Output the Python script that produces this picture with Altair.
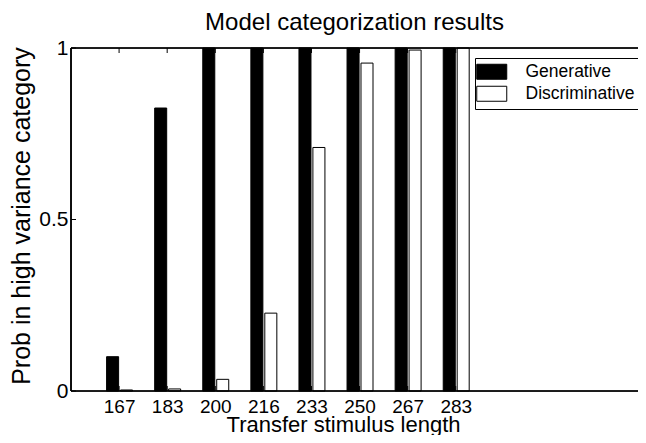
import altair as alt
import pandas as pd

# ---- data ----
stimulus_labels = ["167", "183", "200", "216", "233", "250", "267", "283"]
generative = [0.10, 0.825, 1.0, 1.0, 1.0, 1.0, 1.0, 1.0]
discriminative = [0.003, 0.006, 0.034, 0.227, 0.71, 0.956, 0.994, 1.0]
series_names = ["Generative", "Discriminative"]
y_ticks = [0, 0.5, 1]

positions = list(range(1, len(stimulus_labels) + 1))

rows = []
for i, lab in enumerate(stimulus_labels):
    rows.append({"pos": positions[i], "label": lab, "series": series_names[0], "value": generative[i]})
    rows.append({"pos": positions[i], "label": lab, "series": series_names[1], "value": discriminative[i]})
df = pd.DataFrame(rows)

xticks_df = pd.DataFrame({"pos": positions})
yticks_df = pd.DataFrame({"v": y_ticks})

W, H = 567, 343
FONT = "Liberation Sans"
xdom = [0, 11.79]

label_expr = "[" + ",".join(f"'{l}'" for l in stimulus_labels) + "][datum.value - 1]"

x_scale = alt.Scale(domain=xdom, nice=False, zero=False)
y_scale = alt.Scale(domain=[0, 1], nice=False)

base = alt.Chart(df).transform_calculate(
    x0="datum.pos + (datum.series == 'Generative' ? -0.26 : 0.03)",
    x1="datum.pos + (datum.series == 'Generative' ? -0.01 : 0.28)",
)

bars = base.mark_bar(stroke="black", strokeWidth=1).encode(
    x=alt.X("x0:Q", scale=x_scale,
            axis=alt.Axis(values=positions, labelExpr=label_expr, title="Transfer stimulus length",
                          domain=False, ticks=False, tickSize=0, grid=False,
                          labelFont=FONT, labelFontSize=19, labelColor="black", labelPadding=6,
                          labelOverlap=False,
                          titleFont=FONT, titleFontSize=22, titleFontWeight="normal", titleColor="black",
                          titleX=272, titleY=40, titleBaseline="alphabetic", titleAlign="center")),
    x2="x1:Q",
    y=alt.Y("value:Q", scale=y_scale,
            axis=alt.Axis(values=y_ticks, labelExpr="datum.value == 0.5 ? '0.5' : format(datum.value, 'd')",
                          title="Prob in high variance category",
                          domain=False, ticks=False, tickSize=0, grid=False,
                          labelFont=FONT, labelFontSize=21, labelColor="black", labelPadding=3,
                          titleFont=FONT, titleFontSize=25, titleFontWeight="normal", titleColor="black",
                          titleX=-50, titleY=H / 2 - 4, titleAngle=270, titleBaseline="middle",
                          titleAlign="center")),
    y2=alt.datum(0),
    fill=alt.Fill("series:N", scale=alt.Scale(domain=series_names, range=["black", "white"]),
                  legend=alt.Legend(title=None, orient="none", legendX=404, legendY=10,
                                    symbolType="M-2,-1H2V1H-2Z", symbolSize=225,
                                    symbolStrokeColor="black", symbolStrokeWidth=1,
                                    symbolOffset=3,
                                    labelFont=FONT, labelFontSize=17.5, labelColor="black",
                                    labelOffset=25, rowPadding=2, padding=5,
                                    strokeColor="black", fillColor="white")),
)

tick_len = 5
xt_bottom = alt.Chart(xticks_df).mark_rule(color="black", strokeWidth=1).encode(
    x=alt.X("pos:Q", scale=x_scale), y=alt.value(H), y2=alt.value(H - tick_len))
xt_top = alt.Chart(xticks_df).mark_rule(color="black", strokeWidth=1).encode(
    x=alt.X("pos:Q", scale=x_scale), y=alt.value(0), y2=alt.value(tick_len))
yt_left = alt.Chart(yticks_df).mark_rule(color="black", strokeWidth=1).encode(
    y=alt.Y("v:Q", scale=y_scale), x=alt.value(0), x2=alt.value(tick_len))

# frame lines (left, top, bottom); the right edge lies just outside the picture
frame_left = alt.Chart(yticks_df).mark_rule(color="black", strokeWidth=1.2).encode(
    x=alt.value(0), y=alt.value(0), y2=alt.value(H))
frame_top = alt.Chart(yticks_df).mark_rule(color="black", strokeWidth=1.2).encode(
    x=alt.value(0), x2=alt.value(W), y=alt.value(0))
frame_bottom = alt.Chart(yticks_df).mark_rule(color="black", strokeWidth=1.2).encode(
    x=alt.value(0), x2=alt.value(W), y=alt.value(H))

chart = alt.layer(bars, xt_bottom, xt_top, yt_left, frame_left, frame_top, frame_bottom).properties(
    width=W, height=H,
    title=alt.TitleParams("Model categorization results", font=FONT, fontSize=24,
                          fontWeight="normal", color="black", anchor="middle", offset=2),
    autosize=alt.AutoSizeParams(type="none"),
    padding={"left": 63, "top": 40, "right": 0, "bottom": 44},
).configure_view(strokeWidth=0).configure(background="white")

chart.save("out.html", embed_options={"renderer": "svg", "actions": False})
